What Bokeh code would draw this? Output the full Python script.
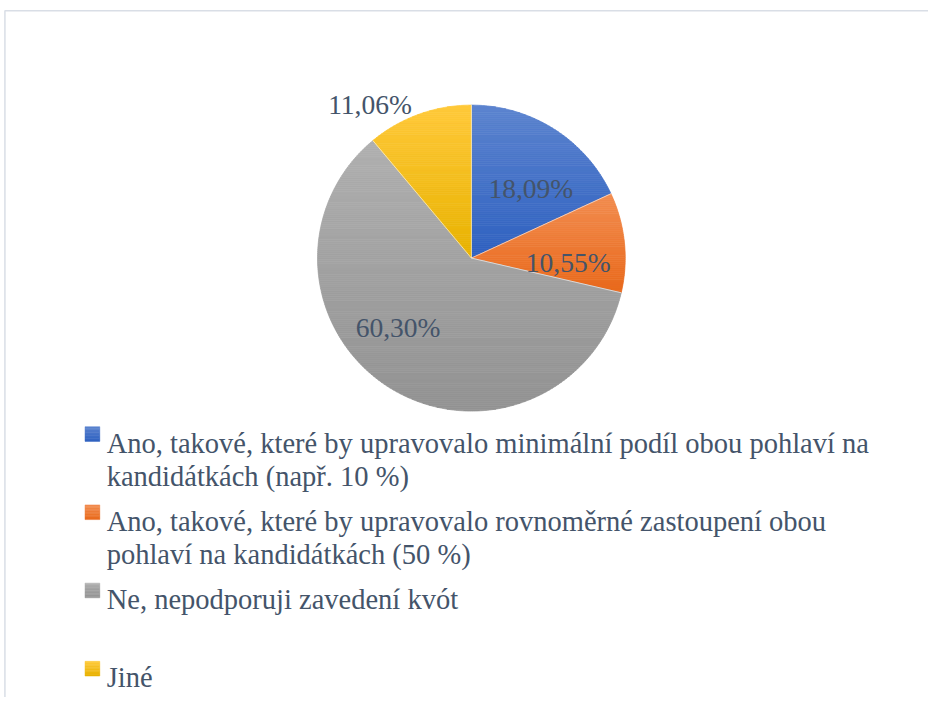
import math
import textwrap
from bokeh.plotting import figure
from bokeh.models import Range1d, ColumnDataSource
from bokeh.embed import file_html
from bokeh.resources import INLINE
from bokeh.core.properties import value

# ---------------- data ----------------
categories = [
    "Ano, takové, které by upravovalo minimální podíl obou pohlaví na kandidátkách (např. 10 %)",
    "Ano, takové, které by upravovalo rovnoměrné zastoupení obou pohlaví na kandidátkách (50 %)",
    "Ne, nepodporuji zavedení kvót",
    "Jiné",
]
values = [18.09, 10.55, 60.30, 11.06]
value_labels = [f"{v:.2f}".replace(".", ",") + "%" for v in values]

# ---------------- style / layout ----------------
top_colors = ["#5C84CF", "#F28D51", "#B0B0B0", "#FFC93A"]
bottom_colors = ["#2F61C0", "#E9691B", "#929292", "#E8B200"]
text_color = "#44546A"
font = "'Liberation Serif', 'Times New Roman', serif"

W, H = 928, 697            # figure size in screen pixels
VW, VH = 944, 713          # drawing space (reference pixel space)
S = W / VW                 # font scale
CX, CY, R = 479, 263.5, 156.5
label_r_frac = [0.599, 0.630, 0.660, 1.203]
label_angle_shift = [7.6, 8.5, 14.6, -13.3]

leg_square_x = 86
leg_text_x = 108
leg_first_base = 453
leg_entry_step = 80
leg_line_step = 34
leg_sq = 15


def hex2rgb(h):
    h = h.lstrip("#")
    return tuple(int(h[i:i + 2], 16) for i in (0, 2, 4))


def mix(c0, c1, t):
    a, b = hex2rgb(c0), hex2rgb(c1)
    return "#%02x%02x%02x" % tuple(int(round(a[i] + (b[i] - a[i]) * t)) for i in range(3))


def clip(poly, yc, keep_below):
    def inside(pt):
        return pt[1] >= yc if keep_below else pt[1] <= yc

    out = []
    n = len(poly)
    for i in range(n):
        cur, prev = poly[i], poly[i - 1]
        ci, pi = inside(cur), inside(prev)
        if ci:
            if not pi:
                t = (yc - prev[1]) / (cur[1] - prev[1])
                out.append((prev[0] + t * (cur[0] - prev[0]), yc))
            out.append(cur)
        elif pi:
            t = (yc - prev[1]) / (cur[1] - prev[1])
            out.append((prev[0] + t * (cur[0] - prev[0]), yc))
    return out


def gradient_bands(poly, c_top, c_bot, step=2.0):
    ys = [pt[1] for pt in poly]
    y_min, y_max = min(ys), max(ys)
    n = max(1, int(math.ceil((y_max - y_min) / step)))
    h = (y_max - y_min) / n
    res = []
    for i in range(n):
        y0 = y_min + i * h
        y1 = y0 + h
        part = clip(clip(poly, y0, True), y1, False)
        if len(part) >= 3:
            res.append(([pt[0] for pt in part], [pt[1] for pt in part], mix(c_top, c_bot, (i + 0.5) / n)))
    return res


def wedge_poly(a0, a1):
    n = max(8, int(abs(a1 - a0) * 1.5))
    pts = [(CX, CY)]
    for k in range(n + 1):
        a = math.radians(a0 + (a1 - a0) * k / n)
        pts.append((CX + R * math.sin(a), CY - R * math.cos(a)))
    return pts


p = figure(width=W, height=H, output_backend="svg", toolbar_location=None,
           x_range=Range1d(0, VW), y_range=Range1d(VH, 0), min_border=0)
p.axis.visible = False
p.grid.visible = False
p.outline_line_color = None
p.background_fill_color = "white"
p.border_fill_color = "white"

# frame
p.line(x=[4.5, 4.5, VW], y=[VH, 10.5, 10.5], line_color="#D9DEE6", line_width=1.5)

xs, ys, cols = [], [], []
total = sum(values)
start = 0.0
edges = []
mids = []
for i, v in enumerate(values):
    a0 = start
    a1 = start + v / total * 360.0
    mids.append((a0 + a1) / 2)
    edges.append(a0)
    for bx, by, c in gradient_bands(wedge_poly(a0, a1), top_colors[i], bottom_colors[i]):
        xs.append(bx)
        ys.append(by)
        cols.append(c)
    start = a1

src = ColumnDataSource(dict(xs=xs, ys=ys, c=cols))
p.patches(xs="xs", ys="ys", fill_color="c", line_color="c", line_width=0.7, source=src)

ex, ey = [], []
for a in edges:
    ar = math.radians(a)
    ex.append([CX, CX + R * math.sin(ar)])
    ey.append([CY, CY - R * math.cos(ar)])
p.multi_line(xs=ex, ys=ey, line_color="white", line_width=1, line_alpha=0.6)

# value labels
lx, ly = [], []
for i, m in enumerate(mids):
    a = math.radians(m + label_angle_shift[i])
    rr = R * label_r_frac[i]
    lx.append(CX + rr * math.sin(a))
    ly.append(CY - rr * math.cos(a))
p.text(x=lx, y=ly, text=value_labels, text_font=value(font), text_font_size=f"{28 * S:.1f}px",
       text_color=text_color, text_align="center", text_baseline="alphabetic")

# legend
tx, ty, tt = [], [], []
sq_bands = []
for i, cat in enumerate(categories):
    base = leg_first_base + i * leg_entry_step
    top = base - 17
    sq = [(leg_square_x, top), (leg_square_x + leg_sq, top),
          (leg_square_x + leg_sq, top + leg_sq), (leg_square_x, top + leg_sq)]
    sq_bands += gradient_bands(sq, top_colors[i], bottom_colors[i], step=1.5)
    for j, line in enumerate(textwrap.wrap(cat, width=64)):
        tx.append(leg_text_x)
        ty.append(base + j * leg_line_step)
        tt.append(line)

p.patches(xs=[b[0] for b in sq_bands], ys=[b[1] for b in sq_bands],
          fill_color=[b[2] for b in sq_bands], line_color=[b[2] for b in sq_bands], line_width=0.5)
p.text(x=tx, y=ty, text=tt, text_font=value(font), text_font_size=f"{29 * S:.1f}px",
       text_color=text_color, text_align="left", text_baseline="alphabetic")

open("out.html", "w").write(file_html(p, INLINE))
